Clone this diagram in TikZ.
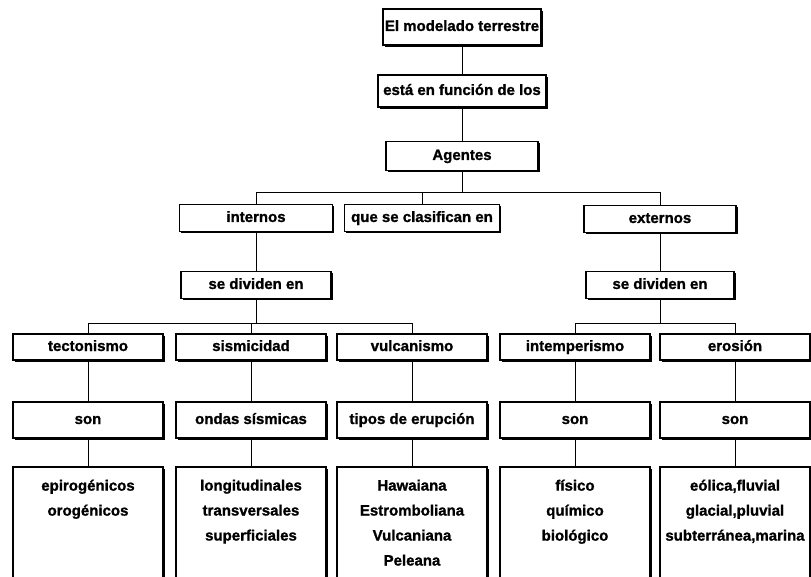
\documentclass[tikz,border=0pt]{standalone}
\usepackage{fontspec}
\setmainfont{Liberation Sans}[BoldFeatures={FakeBold=1.2}]
\usepackage{tikz}
\usetikzlibrary{positioning,shadows}

\begin{document}
\begin{tikzpicture}[x=1pt,y=-1pt,
	caja/.style={draw,line width=1.1pt,fill=white,drop shadow={shadow xshift=1.6pt,shadow yshift=-1.6pt,opacity=1,fill=black},inner sep=0pt,minimum width=150pt,text height=11pt,text depth=3pt,font=\bfseries\fontsize{15}{25}\selectfont},
	texto/.style={align=center,inner sep=0pt,font=\bfseries\fontsize{15}{25}\selectfont}]
\useasboundingbox (0,0) rectangle (811,577);
\node (top) [caja,minimum width=158pt,minimum height=36pt] at (462,27) {El modelado terrestre};
\node (fun) [caja,minimum width=168pt,minimum height=32pt] at (462,91) {está en función de los};
\node (ag) [caja,minimum width=152pt,minimum height=29pt] at (462,156) {Agentes};
\draw[line width=0.8pt] (top) -- (fun);
\draw[line width=0.8pt] (fun) -- (ag);
\node (in) [caja,minimum width=153pt,minimum height=27pt] at (256,218) {internos};
\node (qc) [caja,minimum width=155pt,minimum height=27pt] at (422,218) {que se clasifican en};
\node (ex) [caja,minimum width=152pt,minimum height=27pt] at (660,219) {externos};
\coordinate (j0) at (462,192);
\draw[line width=0.8pt] (ag) -- (j0);
\foreach \m in {in,qc,ex}
	\draw[line width=0.8pt] (j0) -| (\m);
\node (dl) [caja,minimum height=27pt] at (256,285) {se dividen en};
\node (dr) [caja,minimum width=148pt,minimum height=27pt] at (660,285) {se dividen en};
\draw[line width=0.8pt] (in) -- (dl);
\draw[line width=0.8pt] (ex) -- (dr);
\coordinate (j1) at (256,323);
\coordinate (j2) at (660,323);
\draw[line width=0.8pt] (dl) -- (j1);
\draw[line width=0.8pt] (dr) -- (j2);
\foreach \n/\x/\a/\b/\c in {1/88/tectonismo/son/{epirogénicos\\orogénicos},
	2/251/sismicidad/ondas sísmicas/{longitudinales\\transversales\\superficiales},
	3/412/vulcanismo/tipos de erupción/{Hawaiana\\Estromboliana\\Vulcaniana\\Peleana},
	4/575/intemperismo/son/{físico\\químico\\biológico},
	5/735/erosión/son/{eólica,fluvial\\glacial,pluvial\\subterránea,marina}}{
	\node (f\n) [caja,minimum height=26pt] at (\x,347) {\a};
	\node (s\n) [caja,minimum height=36pt] at (\x,420) {\b};
	\node (h\n) [caja,minimum height=140pt] at (\x,537) {};
	\node (t\n) [texto,below=13pt of h\n.north] {\c};
	\draw[line width=0.8pt] (f\n) -- (s\n);
	\draw[line width=0.8pt] (s\n) -- (h\n);
}
\foreach \n in {1,2,3}
	\draw[line width=0.8pt] (j1) -| (f\n);
\foreach \n in {4,5}
	\draw[line width=0.8pt] (j2) -| (f\n);
\end{tikzpicture}
\end{document}
